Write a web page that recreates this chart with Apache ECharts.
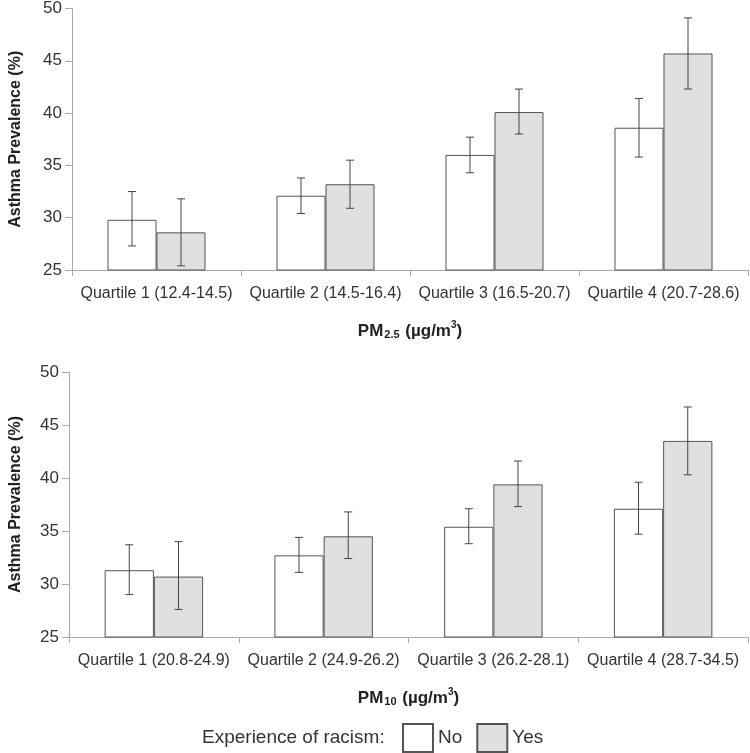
<!DOCTYPE html>
<html>
<head>
<meta charset="utf-8">
<script src="https://cdn.jsdelivr.net/npm/echarts@6/dist/echarts.min.js"></script>
<style>html,body{margin:0;padding:0;background:#fff}#c{width:750px;height:753px}</style>
</head>
<body>
<div id="c"></div>
<script>
// ---- data ----
const catsPM25 = ['Quartile 1 (12.4-14.5)', 'Quartile 2 (14.5-16.4)', 'Quartile 3 (16.5-20.7)', 'Quartile 4 (20.7-28.6)'];
const catsPM10 = ['Quartile 1 (20.8-24.9)', 'Quartile 2 (24.9-26.2)', 'Quartile 3 (26.2-28.1)', 'Quartile 4 (28.7-34.5)'];
const yTicks = [25, 30, 35, 40, 45, 50];

const pm25No = [29.8, 32.1, 36.0, 38.6];
const pm25NoLow = [27.3, 30.4, 34.3, 35.8];
const pm25NoHigh = [32.5, 33.8, 37.7, 41.4];
const pm25Yes = [28.6, 33.2, 40.1, 45.7];
const pm25YesLow = [25.4, 30.9, 38.0, 42.3];
const pm25YesHigh = [31.8, 35.5, 42.3, 49.1];

const pm10No = [31.3, 32.7, 35.4, 37.1];
const pm10NoLow = [29.0, 31.1, 33.8, 34.7];
const pm10NoHigh = [33.7, 34.4, 37.1, 39.6];
const pm10Yes = [30.7, 34.5, 39.4, 43.5];
const pm10YesLow = [27.6, 32.4, 37.3, 40.3];
const pm10YesHigh = [34.0, 36.8, 41.6, 46.7];

// ---- chart ----
const FONT = "'Liberation Sans', Arial, sans-serif";
const BAR_W = 0.29;
function errData(lo, hi) { return lo.map((v, i) => [i, v, hi[i]]); }
function makeErr(name, sign, xi, lo, hi) {
  return {
    type: 'custom', name: name, xAxisIndex: xi, yAxisIndex: xi, z: 5,
    silent: true,
    data: errData(lo, hi),
    encode: { x: 0, y: [1, 2] },
    renderItem: function (params, api) {
      const c = api.value(0);
      const pLo = api.coord([c, api.value(1)]);
      const pHi = api.coord([c, api.value(2)]);
      const bw = api.size([1, 0])[0];
      const x = pLo[0] + sign * bw * BAR_W / 2;
      const cap = 4;
      const st = { stroke: '#444', lineWidth: 1 };
      return {
        type: 'group',
        children: [
          { type: 'line', shape: { x1: x, y1: pLo[1], x2: x, y2: pHi[1] }, style: st },
          { type: 'line', shape: { x1: x - cap, y1: pLo[1], x2: x + cap, y2: pLo[1] }, style: st },
          { type: 'line', shape: { x1: x - cap, y1: pHi[1], x2: x + cap, y2: pHi[1] }, style: st }
        ]
      };
    }
  };
}
function xAx(cats, idx, sub) {
  return {
    type: 'category', data: cats, gridIndex: idx,
    axisLine: { lineStyle: { color: '#aaa', width: 1 } },
    axisTick: { show: true, length: 6, lineStyle: { color: '#aaa' } },
    axisLabel: { interval: 0, color: '#333', fontSize: 16, margin: 16, fontFamily: FONT },
    name: '{b|PM}{s|' + sub + '}{b| (µg/m}{p|3}{b|)}',
    nameLocation: 'middle', nameGap: 50,
    nameTextStyle: {
      rich: {
        b: { fontSize: 17, fontWeight: 'bold', color: '#222', fontFamily: FONT, lineHeight: 20, verticalAlign: 'bottom' },
        s: { fontSize: 11, fontWeight: 'bold', color: '#222', fontFamily: FONT, lineHeight: 20, verticalAlign: 'bottom', padding: [0, 1, 0, 1] },
        p: { fontSize: 10, fontWeight: 'bold', color: '#222', fontFamily: FONT, lineHeight: 20, verticalAlign: 'top' }
      }
    }
  };
}
function yAx(idx, gap) {
  return {
    type: 'value', gridIndex: idx, min: 25, max: 50, interval: 5,
    splitLine: { show: false },
    axisLine: { show: true, lineStyle: { color: '#aaa', width: 1 } },
    axisTick: { show: true, length: 7, lineStyle: { color: '#aaa' } },
    axisLabel: { color: '#333', fontSize: 17, margin: 10, fontFamily: FONT,
      formatter: v => yTicks.includes(v) ? String(v) : '' },
    name: 'Asthma Prevalence (%)', nameLocation: 'middle', nameRotate: 90, nameGap: gap,
    nameTextStyle: { fontSize: 16, fontWeight: 'bold', color: '#222', fontFamily: FONT }
  };
}
const noStyle = { color: '#ffffff', borderColor: '#555', borderWidth: 1 };
const yesStyle = { color: '#e0e0e0', borderColor: '#555', borderWidth: 1 };
function bar(name, data, xi, style) {
  return { type: 'bar', name: name, data: data, xAxisIndex: xi, yAxisIndex: xi,
    barWidth: (BAR_W * 100) + '%', barGap: '0%', itemStyle: style, z: 2 };
}

const chart = echarts.init(document.getElementById('c'), null, { renderer: 'canvas' });
chart.setOption({
  animation: false,
  backgroundColor: '#fff',
  textStyle: { fontFamily: FONT },
  grid: [
    { left: 67, right: 2, top: 7, height: 263 },
    { left: 64, right: 2, top: 372, height: 265 }
  ],
  xAxis: [xAx(catsPM25, 0, '2.5'), xAx(catsPM10, 1, '10')],
  yAxis: [yAx(0, 48), yAx(1, 45)],
  legend: {
    data: ['No', 'Yes'], left: 402, top: 723, padding: 0, itemWidth: 30, itemHeight: 28, itemGap: 14,
    icon: 'rect', selectedMode: false,
    textStyle: { fontSize: 19, color: '#333', fontFamily: FONT }
  },
  graphic: [{
    type: 'text', left: 202, top: 728,
    style: { text: 'Experience of racism:', fontSize: 19, fill: '#333', fontFamily: FONT }
  }],
  series: [
    bar('No', pm25No, 0, noStyle),
    bar('Yes', pm25Yes, 0, yesStyle),
    makeErr('errNo25', -1, 0, pm25NoLow, pm25NoHigh),
    makeErr('errYes25', 1, 0, pm25YesLow, pm25YesHigh),
    bar('No', pm10No, 1, noStyle),
    bar('Yes', pm10Yes, 1, yesStyle),
    makeErr('errNo10', -1, 1, pm10NoLow, pm10NoHigh),
    makeErr('errYes10', 1, 1, pm10YesLow, pm10YesHigh)
  ]
});
</script>
</body>
</html>
